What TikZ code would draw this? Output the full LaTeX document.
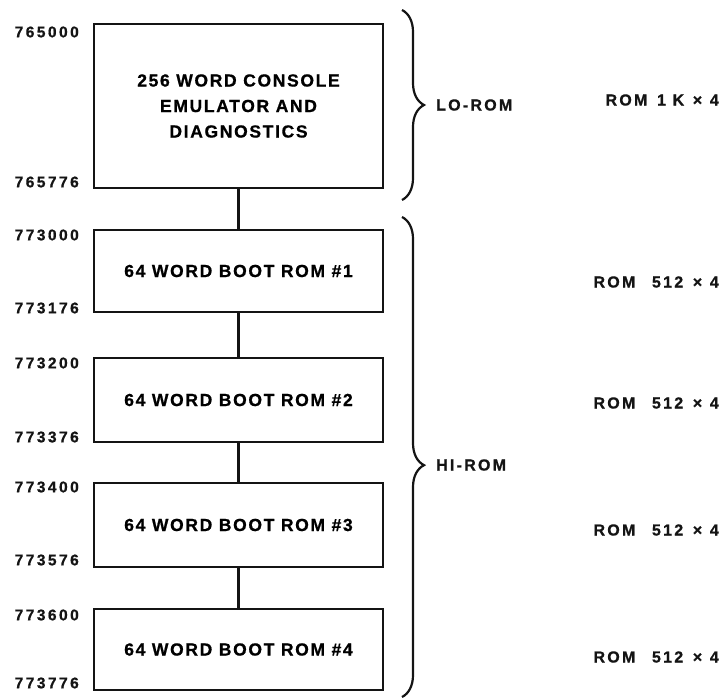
\documentclass[tikz,border=0pt]{standalone}
\usepackage{fontspec}
\setmainfont{Liberation Sans}
\newfontfamily\boxfont[LetterSpace=9.5, FakeBold=0.8]{Liberation Sans}
\newfontfamily\addrfont[LetterSpace=16, FakeBold=0.8]{Liberation Sans}
\newfontfamily\sidefont[LetterSpace=14, FakeBold=0.8]{Liberation Sans}
\usepackage{tikz}
\usetikzlibrary{decorations.pathreplacing, positioning}
\definecolor{inkblack}{RGB}{20,20,20}

\begin{document}
\begin{tikzpicture}[
  x=1pt, y=-1pt,
  rombox/.style={draw=inkblack, line width=2.8pt, minimum width=289pt, inner sep=0pt, align=center, font=\boxfont\fontsize{17.5}{25.5}\selectfont\bfseries},
  addr/.style={anchor=east, inner sep=0pt, text=inkblack, font=\addrfont\fontsize{15.5}{17}\selectfont\bfseries},
  side/.style={inner sep=0pt, text=inkblack, font=\sidefont\fontsize{16}{18}\selectfont\bfseries},
  link/.style={line width=2.2pt, draw=inkblack},
  grp/.style={line width=2.2pt, draw=inkblack, decorate, decoration={brace, amplitude=22pt, aspect=#1}}
]
  \useasboundingbox (0,0) rectangle (720,699);
  \node[rombox, minimum height=164pt] (r0) at (238.5,106) {256 WORD CONSOLE\\EMULATOR AND\\DIAGNOSTICS};
  \foreach \i/\yc/\h in {1/271/82, 2/400/84, 3/525/84, 4/649.5/81} {
    \node[rombox, minimum height=\h pt] (r\i) at (238.5,\yc) {64 WORD BOOT ROM \#\i};
  }
  \foreach \i/\j in {0/1,1/2,2/3,3/4} {
    \draw[link] (r\i.south) -- (r\j.north);
  }
  \foreach \t/\y in {765000/32, 765776/182, 773000/235, 773176/308, 773200/363, 773376/437, 773400/487, 773576/560, 773600/615, 773776/683} {
    \node[addr] (a\t) at (79,\y) {\t};
  }
  \coordinate (lotop) at (402,10);
  \coordinate (lobot) at (402,200);
  \coordinate (hitop) at (402,217);
  \coordinate (hibot) at (402,697);
  \draw[grp=0.5] (lotop) -- (lobot);
  \draw[grp=0.517] (hitop) -- (hibot);
  \node[side, anchor=west] (lo) at (436,105) {LO-ROM};
  \node[side, anchor=west] (hi) at (436,465) {HI-ROM};
  \node[side, anchor=east] (s0) at (719,100) {ROM\hspace{3pt} 1 K\hspace{2pt} ×\hspace{1pt} 4};
  \foreach \i/\y in {1/282, 2/403, 3/530, 4/657} {
    \node[side, anchor=east] (s\i) at (719,\y) {ROM\hspace{10pt} 512\hspace{3pt} ×\hspace{1pt} 4};
  }
\end{tikzpicture}
\end{document}
